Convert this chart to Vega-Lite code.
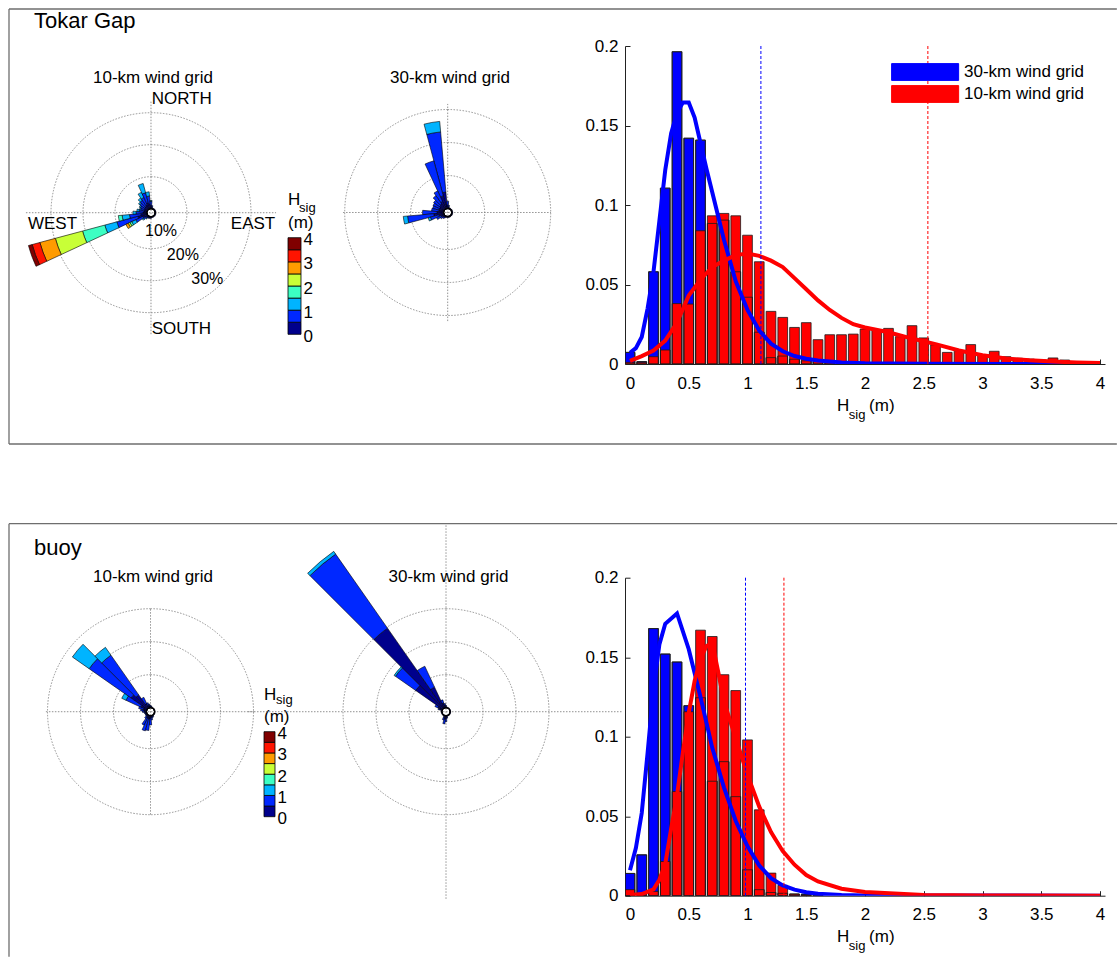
{
"$schema": "https://vega.github.io/schema/vega-lite/v6.json",
"background": "white",
"padding": {"left": 8, "top": 8, "right": 0, "bottom": 0},
"config": {"view": {"stroke": null}, "font": "Liberation Sans", "text": {"font": "Liberation Sans", "color": "#000"}},
"datasets": {
"one": [{}],
"rings": [{"r": 10}, {"r": 20}, {"r": 30}],
"cbar": [{"hs":0,"lo":0,"hi":0.5},{"hs":0.5,"lo":0.5,"hi":1},{"hs":1,"lo":1,"hi":1.5},{"hs":1.5,"lo":1.5,"hi":2},{"hs":2,"lo":2,"hi":2.5},{"hs":2.5,"lo":2.5,"hi":3},{"hs":3,"lo":3,"hi":3.5},{"hs":3.5,"lo":3.5,"hi":4}],
"T10": [
{"dir":250,"hs":0,"f":3},{"dir":250,"hs":0.5,"f":6.8},{"dir":250,"hs":1,"f":3.9},{"dir":250,"hs":1.5,"f":7.2},{"dir":250,"hs":2,"f":8.8},{"dir":250,"hs":2.5,"f":5},{"dir":250,"hs":3,"f":2.5},{"dir":250,"hs":3.5,"f":1.2},
{"dir":260,"hs":0,"f":2},{"dir":260,"hs":0.5,"f":3.5},{"dir":260,"hs":1,"f":2.3},{"dir":260,"hs":1.5,"f":1.2},
{"dir":240,"hs":0,"f":1.5},{"dir":240,"hs":0.5,"f":2.5},{"dir":240,"hs":1,"f":1.4},{"dir":240,"hs":1.5,"f":0.6},{"dir":240,"hs":2,"f":0.6},{"dir":240,"hs":2.5,"f":0.8},
{"dir":230,"hs":0,"f":0.8},{"dir":230,"hs":0.5,"f":0.9},{"dir":230,"hs":1,"f":0.4},
{"dir":220,"hs":0,"f":0.5},{"dir":220,"hs":0.5,"f":0.5},{"dir":220,"hs":1,"f":0.2},
{"dir":210,"hs":0,"f":0.4},{"dir":210,"hs":0.5,"f":0.3},
{"dir":200,"hs":0,"f":0.3},{"dir":200,"hs":0.5,"f":0.3},
{"dir":190,"hs":0,"f":0.3},{"dir":190,"hs":0.5,"f":0.2},
{"dir":180,"hs":0,"f":0.3},{"dir":180,"hs":0.5,"f":0.2},
{"dir":270,"hs":0,"f":1.2},{"dir":270,"hs":0.5,"f":2.2},{"dir":270,"hs":1,"f":1},
{"dir":280,"hs":0,"f":1},{"dir":280,"hs":0.5,"f":1.5},{"dir":280,"hs":1,"f":0.7},
{"dir":290,"hs":0,"f":0.9},{"dir":290,"hs":0.5,"f":1.2},{"dir":290,"hs":1,"f":0.4},
{"dir":300,"hs":0,"f":1},{"dir":300,"hs":0.5,"f":1.4},{"dir":300,"hs":1,"f":0.4},
{"dir":310,"hs":0,"f":1.2},{"dir":310,"hs":0.5,"f":1.8},{"dir":310,"hs":1,"f":0.5},
{"dir":320,"hs":0,"f":1.3},{"dir":320,"hs":0.5,"f":2.2},{"dir":320,"hs":1,"f":0.9},
{"dir":330,"hs":0,"f":1.5},{"dir":330,"hs":0.5,"f":2.5},{"dir":330,"hs":1,"f":1.8},
{"dir":340,"hs":0,"f":2},{"dir":340,"hs":0.5,"f":3.2},{"dir":340,"hs":1,"f":3},
{"dir":350,"hs":0,"f":1.5},{"dir":350,"hs":0.5,"f":2.5},{"dir":350,"hs":1,"f":1.3},
{"dir":0,"hs":0,"f":1},{"dir":0,"hs":0.5,"f":1.3},{"dir":0,"hs":1,"f":0.3},
{"dir":10,"hs":0,"f":0.5},{"dir":10,"hs":0.5,"f":0.5},
{"dir":20,"hs":0,"f":0.3},{"dir":30,"hs":0,"f":0.3},{"dir":40,"hs":0,"f":0.3},{"dir":50,"hs":0,"f":0.3},{"dir":60,"hs":0,"f":0.3},{"dir":70,"hs":0,"f":0.3},{"dir":80,"hs":0,"f":0.3},{"dir":90,"hs":0,"f":0.3},{"dir":100,"hs":0,"f":0.3},{"dir":110,"hs":0,"f":0.3},{"dir":120,"hs":0,"f":0.3},{"dir":130,"hs":0,"f":0.3},{"dir":140,"hs":0,"f":0.3},{"dir":150,"hs":0,"f":0.3},{"dir":160,"hs":0,"f":0.3},{"dir":170,"hs":0,"f":0.3}
],
"T30": [
{"dir":350,"hs":0,"f":5},{"dir":350,"hs":0.5,"f":18.3},{"dir":350,"hs":1,"f":3.2},
{"dir":340,"hs":0,"f":4},{"dir":340,"hs":0.5,"f":11},
{"dir":330,"hs":0,"f":2.5},{"dir":330,"hs":0.5,"f":3.5},
{"dir":320,"hs":0,"f":2},{"dir":320,"hs":0.5,"f":3},
{"dir":310,"hs":0,"f":1.8},{"dir":310,"hs":0.5,"f":2.2},
{"dir":300,"hs":0,"f":1.5},{"dir":300,"hs":0.5,"f":2.2},
{"dir":290,"hs":0,"f":1.5},{"dir":290,"hs":0.5,"f":2},
{"dir":280,"hs":0,"f":1.5},{"dir":280,"hs":0.5,"f":2.2},
{"dir":270,"hs":0,"f":2},{"dir":270,"hs":0.5,"f":4.4},
{"dir":260,"hs":0,"f":3},{"dir":260,"hs":0.5,"f":8},{"dir":260,"hs":1,"f":1.3},
{"dir":250,"hs":0,"f":1.5},{"dir":250,"hs":0.5,"f":2.7},{"dir":250,"hs":1,"f":0.7},
{"dir":240,"hs":0,"f":1},{"dir":240,"hs":0.5,"f":1.5},
{"dir":230,"hs":0,"f":0.7},{"dir":230,"hs":0.5,"f":0.8},
{"dir":220,"hs":0,"f":0.5},{"dir":220,"hs":0.5,"f":0.5},
{"dir":210,"hs":0,"f":0.4},{"dir":210,"hs":0.5,"f":0.3},
{"dir":0,"hs":0,"f":1},{"dir":0,"hs":0.5,"f":1.2},
{"dir":10,"hs":0,"f":0.5},{"dir":10,"hs":0.5,"f":0.5},
{"dir":20,"hs":0,"f":0.3},{"dir":30,"hs":0,"f":0.3},{"dir":40,"hs":0,"f":0.3},{"dir":50,"hs":0,"f":0.3},{"dir":60,"hs":0,"f":0.3},{"dir":70,"hs":0,"f":0.3},{"dir":80,"hs":0,"f":0.3},{"dir":90,"hs":0,"f":0.3},{"dir":100,"hs":0,"f":0.3},{"dir":110,"hs":0,"f":0.3},{"dir":120,"hs":0,"f":0.3},{"dir":130,"hs":0,"f":0.3},{"dir":140,"hs":0,"f":0.3},{"dir":150,"hs":0,"f":0.3},{"dir":160,"hs":0,"f":0.3},{"dir":170,"hs":0,"f":0.3},{"dir":180,"hs":0,"f":0.3},{"dir":190,"hs":0,"f":0.3},{"dir":200,"hs":0,"f":0.3}
],
"B10": [
{"dir":310,"hs":0,"f":6},{"dir":310,"hs":0.5,"f":15.5},{"dir":310,"hs":1,"f":6.2},
{"dir":320,"hs":0,"f":5},{"dir":320,"hs":0.5,"f":14.7},{"dir":320,"hs":1,"f":2.9},
{"dir":300,"hs":0,"f":2},{"dir":300,"hs":0.5,"f":5},{"dir":300,"hs":1,"f":1.4},
{"dir":330,"hs":0,"f":1.5},{"dir":330,"hs":0.5,"f":2.1},
{"dir":290,"hs":0,"f":1},{"dir":290,"hs":0.5,"f":1.5},
{"dir":280,"hs":0,"f":0.8},{"dir":280,"hs":0.5,"f":1},
{"dir":270,"hs":0,"f":0.6},{"dir":270,"hs":0.5,"f":0.6},
{"dir":260,"hs":0,"f":0.4},{"dir":260,"hs":0.5,"f":0.3},
{"dir":250,"hs":0,"f":0.3},{"dir":250,"hs":0.5,"f":0.3},
{"dir":240,"hs":0,"f":0.3},{"dir":240,"hs":0.5,"f":0.2},
{"dir":230,"hs":0,"f":0.3},{"dir":230,"hs":0.5,"f":0.3},
{"dir":220,"hs":0,"f":0.5},{"dir":220,"hs":0.5,"f":0.8},
{"dir":210,"hs":0,"f":0.8},{"dir":210,"hs":0.5,"f":2.5},
{"dir":200,"hs":0,"f":1},{"dir":200,"hs":0.5,"f":3.8},
{"dir":190,"hs":0,"f":1},{"dir":190,"hs":0.5,"f":3.5},
{"dir":180,"hs":0,"f":0.8},{"dir":180,"hs":0.5,"f":2},
{"dir":170,"hs":0,"f":0.5},{"dir":170,"hs":0.5,"f":0.8},
{"dir":160,"hs":0,"f":0.3},{"dir":160,"hs":0.5,"f":0.4},
{"dir":150,"hs":0,"f":0.3},{"dir":150,"hs":0.5,"f":0.2},
{"dir":340,"hs":0,"f":0.8},{"dir":340,"hs":0.5,"f":0.8},
{"dir":350,"hs":0,"f":0.6},{"dir":350,"hs":0.5,"f":0.5},
{"dir":0,"hs":0,"f":0.4},{"dir":0,"hs":0.5,"f":0.3},
{"dir":10,"hs":0,"f":0.3},{"dir":10,"hs":0.5,"f":0.2},
{"dir":20,"hs":0,"f":0.2},{"dir":30,"hs":0,"f":0.2},{"dir":40,"hs":0,"f":0.2},{"dir":50,"hs":0,"f":0.2},{"dir":60,"hs":0,"f":0.2},{"dir":70,"hs":0,"f":0.2},{"dir":80,"hs":0,"f":0.2},{"dir":90,"hs":0,"f":0.2},{"dir":100,"hs":0,"f":0.2},{"dir":110,"hs":0,"f":0.2},{"dir":120,"hs":0,"f":0.2},{"dir":130,"hs":0,"f":0.2},{"dir":140,"hs":0,"f":0.2}
],
"B30": [
{"dir":320,"hs":0,"f":29.7},{"dir":320,"hs":0.5,"f":27.4},{"dir":320,"hs":1,"f":1},
{"dir":310,"hs":0,"f":10},{"dir":310,"hs":0.5,"f":7.5},{"dir":310,"hs":1,"f":0.5},
{"dir":330,"hs":0,"f":7},{"dir":330,"hs":0.5,"f":7},
{"dir":340,"hs":0,"f":1.5},{"dir":340,"hs":0.5,"f":1},
{"dir":300,"hs":0,"f":1.5},{"dir":300,"hs":0.5,"f":1},
{"dir":290,"hs":0,"f":0.8},{"dir":290,"hs":0.5,"f":0.5},
{"dir":350,"hs":0,"f":0.8},{"dir":350,"hs":0.5,"f":0.5},
{"dir":0,"hs":0,"f":0.4},{"dir":0,"hs":0.5,"f":0.3},
{"dir":180,"hs":0,"f":0.8},{"dir":180,"hs":0.5,"f":1},
{"dir":190,"hs":0,"f":1},{"dir":190,"hs":0.5,"f":1.5},
{"dir":200,"hs":0,"f":0.6},{"dir":200,"hs":0.5,"f":0.8},
{"dir":170,"hs":0,"f":0.4},{"dir":170,"hs":0.5,"f":0.4},
{"dir":10,"hs":0,"f":0.2},{"dir":20,"hs":0,"f":0.2},{"dir":30,"hs":0,"f":0.2},{"dir":40,"hs":0,"f":0.2},{"dir":50,"hs":0,"f":0.2},{"dir":60,"hs":0,"f":0.2},{"dir":70,"hs":0,"f":0.2},{"dir":80,"hs":0,"f":0.2},{"dir":90,"hs":0,"f":0.2},{"dir":100,"hs":0,"f":0.2},{"dir":110,"hs":0,"f":0.2},{"dir":120,"hs":0,"f":0.2},{"dir":130,"hs":0,"f":0.2},{"dir":140,"hs":0,"f":0.2},{"dir":150,"hs":0,"f":0.2},{"dir":160,"hs":0,"f":0.2},
{"dir":210,"hs":0,"f":0.2},{"dir":220,"hs":0,"f":0.2},{"dir":230,"hs":0,"f":0.2},{"dir":240,"hs":0,"f":0.2},{"dir":250,"hs":0,"f":0.2},{"dir":260,"hs":0,"f":0.2},{"dir":270,"hs":0,"f":0.2},{"dir":280,"hs":0,"f":0.2}
],
"Thist": [
{"grid":"30-km wind grid","h":0,"p":0.0073},{"grid":"30-km wind grid","h":0.1,"p":0.0015},{"grid":"30-km wind grid","h":0.2,"p":0.058},{"grid":"30-km wind grid","h":0.3,"p":0.1106},{"grid":"30-km wind grid","h":0.4,"p":0.1964},{"grid":"30-km wind grid","h":0.5,"p":0.142},{"grid":"30-km wind grid","h":0.6,"p":0.1408},{"grid":"30-km wind grid","h":0.7,"p":0.0884},{"grid":"30-km wind grid","h":0.8,"p":0.0905},{"grid":"30-km wind grid","h":0.9,"p":0.058},{"grid":"30-km wind grid","h":1.0,"p":0.042},{"grid":"30-km wind grid","h":1.1,"p":0.02},{"grid":"30-km wind grid","h":1.2,"p":0.004},{"grid":"30-km wind grid","h":1.3,"p":0.005},{"grid":"30-km wind grid","h":1.4,"p":0.003},{"grid":"30-km wind grid","h":1.5,"p":0.002},{"grid":"30-km wind grid","h":1.6,"p":0.0015},{"grid":"30-km wind grid","h":1.7,"p":0.001},{"grid":"30-km wind grid","h":1.8,"p":0.001},{"grid":"30-km wind grid","h":1.9,"p":0.0008},{"grid":"30-km wind grid","h":2.0,"p":0.0005},{"grid":"30-km wind grid","h":2.1,"p":0.0004},{"grid":"30-km wind grid","h":2.2,"p":0.0003},{"grid":"30-km wind grid","h":2.3,"p":0.0003},{"grid":"30-km wind grid","h":2.4,"p":0.0002},{"grid":"30-km wind grid","h":2.5,"p":0.0002},
{"grid":"10-km wind grid","h":0,"p":0.001},{"grid":"10-km wind grid","h":0.1,"p":0.001},{"grid":"10-km wind grid","h":0.2,"p":0.0046},{"grid":"10-km wind grid","h":0.3,"p":0.0088},{"grid":"10-km wind grid","h":0.4,"p":0.038},{"grid":"10-km wind grid","h":0.5,"p":0.0377},{"grid":"10-km wind grid","h":0.6,"p":0.0838},{"grid":"10-km wind grid","h":0.7,"p":0.0932},{"grid":"10-km wind grid","h":0.8,"p":0.0947},{"grid":"10-km wind grid","h":0.9,"p":0.0932},{"grid":"10-km wind grid","h":1.0,"p":0.081},{"grid":"10-km wind grid","h":1.1,"p":0.0643},{"grid":"10-km wind grid","h":1.2,"p":0.0331},{"grid":"10-km wind grid","h":1.3,"p":0.0293},{"grid":"10-km wind grid","h":1.4,"p":0.023},{"grid":"10-km wind grid","h":1.5,"p":0.026},{"grid":"10-km wind grid","h":1.6,"p":0.0153},{"grid":"10-km wind grid","h":1.7,"p":0.0184},{"grid":"10-km wind grid","h":1.8,"p":0.0184},{"grid":"10-km wind grid","h":1.9,"p":0.0188},{"grid":"10-km wind grid","h":2.0,"p":0.022},{"grid":"10-km wind grid","h":2.1,"p":0.0214},{"grid":"10-km wind grid","h":2.2,"p":0.0224},{"grid":"10-km wind grid","h":2.3,"p":0.0172},{"grid":"10-km wind grid","h":2.4,"p":0.0241},{"grid":"10-km wind grid","h":2.5,"p":0.0164},{"grid":"10-km wind grid","h":2.6,"p":0.012},{"grid":"10-km wind grid","h":2.7,"p":0.0073},{"grid":"10-km wind grid","h":2.8,"p":0.008},{"grid":"10-km wind grid","h":2.9,"p":0.0122},{"grid":"10-km wind grid","h":3.0,"p":0.0059},{"grid":"10-km wind grid","h":3.1,"p":0.008},{"grid":"10-km wind grid","h":3.2,"p":0.0046},{"grid":"10-km wind grid","h":3.3,"p":0.0036},{"grid":"10-km wind grid","h":3.4,"p":0.0031},{"grid":"10-km wind grid","h":3.5,"p":0.0025},{"grid":"10-km wind grid","h":3.6,"p":0.0038},{"grid":"10-km wind grid","h":3.7,"p":0.0025},{"grid":"10-km wind grid","h":3.8,"p":0.001},{"grid":"10-km wind grid","h":3.9,"p":0.0005}
],
"Tcurve": [
{"grid":"30-km wind grid","h":0,"p":0.007},{"grid":"30-km wind grid","h":0.05,"p":0.01},{"grid":"30-km wind grid","h":0.1,"p":0.017},{"grid":"30-km wind grid","h":0.15,"p":0.035},{"grid":"30-km wind grid","h":0.2,"p":0.058},{"grid":"30-km wind grid","h":0.25,"p":0.09},{"grid":"30-km wind grid","h":0.3,"p":0.122},{"grid":"30-km wind grid","h":0.35,"p":0.145},{"grid":"30-km wind grid","h":0.4,"p":0.158},{"grid":"30-km wind grid","h":0.45,"p":0.1644},{"grid":"30-km wind grid","h":0.5,"p":0.1644},{"grid":"30-km wind grid","h":0.55,"p":0.155},{"grid":"30-km wind grid","h":0.6,"p":0.139},{"grid":"30-km wind grid","h":0.65,"p":0.123},{"grid":"30-km wind grid","h":0.7,"p":0.108},{"grid":"30-km wind grid","h":0.8,"p":0.078},{"grid":"30-km wind grid","h":0.9,"p":0.052},{"grid":"30-km wind grid","h":1.0,"p":0.034},{"grid":"30-km wind grid","h":1.1,"p":0.021},{"grid":"30-km wind grid","h":1.2,"p":0.0128},{"grid":"30-km wind grid","h":1.3,"p":0.008},{"grid":"30-km wind grid","h":1.4,"p":0.005},{"grid":"30-km wind grid","h":1.5,"p":0.0033},{"grid":"30-km wind grid","h":1.6,"p":0.0022},{"grid":"30-km wind grid","h":1.8,"p":0.001},{"grid":"30-km wind grid","h":2.0,"p":0.0005},{"grid":"30-km wind grid","h":2.5,"p":0.0001},{"grid":"30-km wind grid","h":4.0,"p":0},
{"grid":"10-km wind grid","h":0,"p":0.002},{"grid":"10-km wind grid","h":0.1,"p":0.005},{"grid":"10-km wind grid","h":0.2,"p":0.0085},{"grid":"10-km wind grid","h":0.3,"p":0.0147},{"grid":"10-km wind grid","h":0.4,"p":0.026},{"grid":"10-km wind grid","h":0.5,"p":0.043},{"grid":"10-km wind grid","h":0.6,"p":0.053},{"grid":"10-km wind grid","h":0.7,"p":0.061},{"grid":"10-km wind grid","h":0.8,"p":0.065},{"grid":"10-km wind grid","h":0.9,"p":0.0685},{"grid":"10-km wind grid","h":1.0,"p":0.0695},{"grid":"10-km wind grid","h":1.1,"p":0.068},{"grid":"10-km wind grid","h":1.2,"p":0.065},{"grid":"10-km wind grid","h":1.3,"p":0.061},{"grid":"10-km wind grid","h":1.4,"p":0.054},{"grid":"10-km wind grid","h":1.5,"p":0.047},{"grid":"10-km wind grid","h":1.6,"p":0.04},{"grid":"10-km wind grid","h":1.7,"p":0.034},{"grid":"10-km wind grid","h":1.8,"p":0.029},{"grid":"10-km wind grid","h":1.9,"p":0.025},{"grid":"10-km wind grid","h":2.0,"p":0.023},{"grid":"10-km wind grid","h":2.2,"p":0.02},{"grid":"10-km wind grid","h":2.4,"p":0.016},{"grid":"10-km wind grid","h":2.6,"p":0.0125},{"grid":"10-km wind grid","h":2.8,"p":0.0085},{"grid":"10-km wind grid","h":3.0,"p":0.0055},{"grid":"10-km wind grid","h":3.2,"p":0.0035},{"grid":"10-km wind grid","h":3.4,"p":0.0023},{"grid":"10-km wind grid","h":3.6,"p":0.0015},{"grid":"10-km wind grid","h":3.8,"p":0.001},{"grid":"10-km wind grid","h":4.0,"p":0.0006}
],
"Tmean": [{"grid":"30-km wind grid","h":1.114},{"grid":"10-km wind grid","h":2.535}],
"Bhist": [
{"grid":"30-km wind grid","h":0,"p":0.014},{"grid":"30-km wind grid","h":0.1,"p":0.0257},{"grid":"30-km wind grid","h":0.2,"p":0.168},{"grid":"30-km wind grid","h":0.3,"p":0.152},{"grid":"30-km wind grid","h":0.4,"p":0.147},{"grid":"30-km wind grid","h":0.5,"p":0.1195},{"grid":"30-km wind grid","h":0.6,"p":0.1245},{"grid":"30-km wind grid","h":0.7,"p":0.072},{"grid":"30-km wind grid","h":0.8,"p":0.0843},{"grid":"30-km wind grid","h":0.9,"p":0.0623},{"grid":"30-km wind grid","h":1.0,"p":0.0163},{"grid":"30-km wind grid","h":1.1,"p":0.0038},{"grid":"30-km wind grid","h":1.2,"p":0.002},{"grid":"30-km wind grid","h":1.3,"p":0.0015},{"grid":"30-km wind grid","h":1.4,"p":0.001},{"grid":"30-km wind grid","h":1.5,"p":0.001},{"grid":"30-km wind grid","h":1.6,"p":0.0008},
{"grid":"10-km wind grid","h":0,"p":0.0038},{"grid":"10-km wind grid","h":0.1,"p":0.0005},{"grid":"10-km wind grid","h":0.2,"p":0.0027},{"grid":"10-km wind grid","h":0.3,"p":0.0215},{"grid":"10-km wind grid","h":0.4,"p":0.0655},{"grid":"10-km wind grid","h":0.5,"p":0.1157},{"grid":"10-km wind grid","h":0.6,"p":0.167},{"grid":"10-km wind grid","h":0.7,"p":0.163},{"grid":"10-km wind grid","h":0.8,"p":0.139},{"grid":"10-km wind grid","h":0.9,"p":0.129},{"grid":"10-km wind grid","h":1.0,"p":0.098},{"grid":"10-km wind grid","h":1.1,"p":0.054},{"grid":"10-km wind grid","h":1.2,"p":0.0142},{"grid":"10-km wind grid","h":1.3,"p":0.0065},{"grid":"10-km wind grid","h":1.4,"p":0.001},{"grid":"10-km wind grid","h":1.5,"p":0.0005}
],
"Bcurve": [
{"grid":"30-km wind grid","h":0,"p":0.016},{"grid":"30-km wind grid","h":0.05,"p":0.03},{"grid":"30-km wind grid","h":0.1,"p":0.052},{"grid":"30-km wind grid","h":0.15,"p":0.09},{"grid":"30-km wind grid","h":0.2,"p":0.13},{"grid":"30-km wind grid","h":0.25,"p":0.158},{"grid":"30-km wind grid","h":0.3,"p":0.171},{"grid":"30-km wind grid","h":0.4,"p":0.1775},{"grid":"30-km wind grid","h":0.5,"p":0.155},{"grid":"30-km wind grid","h":0.6,"p":0.125},{"grid":"30-km wind grid","h":0.7,"p":0.093},{"grid":"30-km wind grid","h":0.8,"p":0.068},{"grid":"30-km wind grid","h":0.9,"p":0.047},{"grid":"30-km wind grid","h":1.0,"p":0.031},{"grid":"30-km wind grid","h":1.1,"p":0.019},{"grid":"30-km wind grid","h":1.2,"p":0.011},{"grid":"30-km wind grid","h":1.3,"p":0.0065},{"grid":"30-km wind grid","h":1.4,"p":0.0038},{"grid":"30-km wind grid","h":1.5,"p":0.0022},{"grid":"30-km wind grid","h":1.6,"p":0.0013},{"grid":"30-km wind grid","h":1.8,"p":0.0005},{"grid":"30-km wind grid","h":2.0,"p":0.0002},{"grid":"30-km wind grid","h":4.0,"p":0},
{"grid":"10-km wind grid","h":0,"p":0.0005},{"grid":"10-km wind grid","h":0.1,"p":0.001},{"grid":"10-km wind grid","h":0.2,"p":0.004},{"grid":"10-km wind grid","h":0.25,"p":0.01},{"grid":"10-km wind grid","h":0.3,"p":0.02},{"grid":"10-km wind grid","h":0.35,"p":0.042},{"grid":"10-km wind grid","h":0.4,"p":0.063},{"grid":"10-km wind grid","h":0.45,"p":0.09},{"grid":"10-km wind grid","h":0.5,"p":0.115},{"grid":"10-km wind grid","h":0.55,"p":0.135},{"grid":"10-km wind grid","h":0.6,"p":0.149},{"grid":"10-km wind grid","h":0.65,"p":0.157},{"grid":"10-km wind grid","h":0.7,"p":0.159},{"grid":"10-km wind grid","h":0.75,"p":0.141},{"grid":"10-km wind grid","h":0.8,"p":0.122},{"grid":"10-km wind grid","h":0.9,"p":0.099},{"grid":"10-km wind grid","h":1.0,"p":0.076},{"grid":"10-km wind grid","h":1.1,"p":0.056},{"grid":"10-km wind grid","h":1.2,"p":0.04},{"grid":"10-km wind grid","h":1.3,"p":0.028},{"grid":"10-km wind grid","h":1.4,"p":0.0195},{"grid":"10-km wind grid","h":1.5,"p":0.013},{"grid":"10-km wind grid","h":1.6,"p":0.009},{"grid":"10-km wind grid","h":1.8,"p":0.0044},{"grid":"10-km wind grid","h":2.0,"p":0.0023},{"grid":"10-km wind grid","h":2.5,"p":0.0005},{"grid":"10-km wind grid","h":3.0,"p":0.0001},{"grid":"10-km wind grid","h":4.0,"p":0}
],
"Bmean": [{"grid":"30-km wind grid","h":0.983},{"grid":"10-km wind grid","h":1.31}]
},
"vconcat": [
{
"hconcat": [
{
"width": 279, "height": 435,
"encoding": {
 "x": {"datum": 0, "type": "quantitative", "scale": {"domain": [-43.03, 41.52], "nice": false, "zero": false}, "axis": null},
 "y": {"datum": 0, "type": "quantitative", "scale": {"domain": [-70.09, 61.73], "nice": false, "zero": false}, "axis": null}
},
"layer": [
 {"data": {"name": "one"}, "mark": {"type": "rule", "stroke": "#6e6e6e", "strokeWidth": 1.3}, "encoding": {"x": {"datum": -43.03, "type": "quantitative"}, "x2": {"datum": 292.7}, "y": {"datum": 61.73, "type": "quantitative"}}},
 {"data": {"name": "one"}, "mark": {"type": "rule", "stroke": "#6e6e6e", "strokeWidth": 1.3}, "encoding": {"x": {"datum": -43.03, "type": "quantitative"}, "x2": {"datum": 292.7}, "y": {"datum": -70.09, "type": "quantitative"}}},
 {"data": {"name": "one"}, "mark": {"type": "rule", "stroke": "#6e6e6e", "strokeWidth": 1.3}, "encoding": {"x": {"datum": -43.03, "type": "quantitative"}, "y": {"datum": -70.09, "type": "quantitative"}, "y2": {"datum": 61.73}}},
 {"data": {"name": "one"}, "mark": {"type": "text", "text": "Tokar Gap", "align": "left", "baseline": "alphabetic", "fontSize": 22}, "encoding": {"x": {"datum": -35.45, "type": "quantitative"}, "y": {"datum": 55.97, "type": "quantitative"}}},
 {"data": {"name": "one"}, "mark": {"type": "rule", "stroke": "#777", "strokeWidth": 0.8, "strokeDash": [1.5, 1.5]}, "encoding": {"x": {"datum": -37.9, "type": "quantitative"}, "x2": {"datum": 37.9}}},
 {"data": {"name": "one"}, "mark": {"type": "rule", "stroke": "#777", "strokeWidth": 0.8, "strokeDash": [1.5, 1.5]}, "encoding": {"y": {"datum": -36.8, "type": "quantitative"}, "y2": {"datum": 33.8}}},
 {"data": {"name": "rings"}, "mark": {"type": "arc", "fillOpacity": 0, "stroke": "#777", "strokeWidth": 0.8, "strokeDash": [1.5, 1.5]},
  "encoding": {"theta": {"datum": 0, "type": "quantitative", "scale": {"domain": [0, 360], "range": [0, 6.283185307179586]}}, "theta2": {"datum": 360}, "radius": {"field": "r", "type": "quantitative", "stack": null, "scale": {"type": "linear", "domain": [0, 30], "range": [4, 100], "zero": false}}}},
 {"data": {"name": "T10"}, "transform": [{"bin": {"step": 10, "anchor": 5, "extent": [-5, 355], "nice": false}, "field": "dir", "as": ["d0", "d1"]}, {"stack": "f", "groupby": ["dir"], "sort": [{"field": "hs", "order": "ascending"}], "as": ["r0", "r1"]}],
  "mark": {"type": "arc", "stroke": "#000", "strokeWidth": 0.6},
  "encoding": {"theta": {"field": "d0", "type": "quantitative", "stack": null}, "theta2": {"field": "d1"}, "radius": {"field": "r1", "type": "quantitative", "stack": null}, "radius2": {"field": "r0"},
   "fill": {"field": "hs", "type": "ordinal", "scale": {"domain": [0, 0.5, 1, 1.5, 2, 2.5, 3, 3.5], "range": ["#00008c", "#0028ff", "#00b4ff", "#3cffc3", "#c8ff37", "#ff9b00", "#ff1400", "#800000"]}, "legend": null}}},
 {"data": {"name": "one"}, "mark": {"type": "arc", "fill": "#fff", "stroke": "#000", "strokeWidth": 1}, "encoding": {"theta": {"datum": 0, "type": "quantitative"}, "theta2": {"datum": 360}, "radius": {"datum": 0, "type": "quantitative"}}},
 {"data": {"name": "one"}, "mark": {"type": "text", "text": "10-km wind grid", "align": "center", "baseline": "alphabetic", "fontSize": 17}, "encoding": {"x": {"datum": 0.6, "type": "quantitative"}, "y": {"datum": 39.3, "type": "quantitative"}}},
 {"data": {"name": "one"}, "mark": {"type": "text", "text": "NORTH", "align": "left", "baseline": "alphabetic", "fontSize": 17}, "encoding": {"x": {"datum": 0.2, "type": "quantitative"}, "y": {"datum": 32.8, "type": "quantitative"}}},
 {"data": {"name": "one"}, "mark": {"type": "text", "text": "SOUTH", "align": "left", "baseline": "alphabetic", "fontSize": 17}, "encoding": {"x": {"datum": 0.2, "type": "quantitative"}, "y": {"datum": -36.8, "type": "quantitative"}}},
 {"data": {"name": "one"}, "mark": {"type": "text", "text": "WEST", "align": "left", "baseline": "alphabetic", "fontSize": 17}, "encoding": {"x": {"datum": -37.3, "type": "quantitative"}, "y": {"datum": -4.9, "type": "quantitative"}}},
 {"data": {"name": "one"}, "mark": {"type": "text", "text": "EAST", "align": "left", "baseline": "alphabetic", "fontSize": 17}, "encoding": {"x": {"datum": 24.2, "type": "quantitative"}, "y": {"datum": -4.9, "type": "quantitative"}}},
 {"data": {"name": "one"}, "mark": {"type": "text", "text": "10%", "align": "left", "baseline": "alphabetic", "fontSize": 16}, "encoding": {"x": {"datum": -1.8, "type": "quantitative"}, "y": {"datum": -7.0, "type": "quantitative"}}},
 {"data": {"name": "one"}, "mark": {"type": "text", "text": "20%", "align": "left", "baseline": "alphabetic", "fontSize": 16}, "encoding": {"x": {"datum": 4.8, "type": "quantitative"}, "y": {"datum": -14.3, "type": "quantitative"}}},
 {"data": {"name": "one"}, "mark": {"type": "text", "text": "30%", "align": "left", "baseline": "alphabetic", "fontSize": 16}, "encoding": {"x": {"datum": 12.2, "type": "quantitative"}, "y": {"datum": -21.5, "type": "quantitative"}}}
]
},
{
"width": 13, "height": 435,
"layer": [
 {"data": {"name": "cbar"}, "mark": {"type": "rect", "stroke": "#000", "strokeWidth": 0.8},
  "encoding": {
   "x": {"datum": 0, "type": "quantitative", "scale": {"domain": [0, 1], "nice": false, "zero": false}, "axis": null},
   "x2": {"datum": 1},
   "y": {"field": "lo", "type": "quantitative", "scale": {"domain": [-4.542, 13.47], "nice": false, "zero": false}, "axis": {"orient": "right", "values": [0, 1, 2, 3, 4], "ticks": false, "domain": false, "grid": false, "labelPadding": 2, "labelOffset": 2, "labelFontSize": 17, "labelColor": "#000", "title": null}},
   "y2": {"field": "hi"},
   "fill": {"field": "hs", "type": "ordinal", "scale": {"domain": [0, 0.5, 1, 1.5, 2, 2.5, 3, 3.5], "range": ["#00008c", "#0028ff", "#00b4ff", "#3cffc3", "#c8ff37", "#ff9b00", "#ff1400", "#800000"]}, "legend": null}}},
 {"data": {"name": "one"}, "mark": {"type": "text", "text": "H", "align": "left", "baseline": "alphabetic", "fontSize": 17}, "encoding": {"x": {"datum": 0, "type": "quantitative"}, "y": {"datum": 5.36, "type": "quantitative"}}},
 {"data": {"name": "one"}, "mark": {"type": "text", "text": "sig", "align": "left", "baseline": "alphabetic", "fontSize": 13}, "encoding": {"x": {"datum": 0.85, "type": "quantitative"}, "y": {"datum": 5.07, "type": "quantitative"}}},
 {"data": {"name": "one"}, "mark": {"type": "text", "text": "(m)", "align": "left", "baseline": "alphabetic", "fontSize": 17}, "encoding": {"x": {"datum": 0, "type": "quantitative"}, "y": {"datum": 4.41, "type": "quantitative"}}}
]
},
{
"width": 324, "height": 435,
"encoding": {
 "x": {"datum": 0, "type": "quantitative", "scale": {"domain": [-44.45, 53.73], "nice": false, "zero": false}, "axis": null},
 "y": {"datum": 0, "type": "quantitative", "scale": {"domain": [-70.15, 61.67], "nice": false, "zero": false}, "axis": null}
},
"layer": [
 {"data": {"name": "one"}, "mark": {"type": "rule", "stroke": "#777", "strokeWidth": 0.8, "strokeDash": [1.5, 1.5]}, "encoding": {"x": {"datum": -31.7, "type": "quantitative"}, "x2": {"datum": 31.3}}},
 {"data": {"name": "one"}, "mark": {"type": "rule", "stroke": "#777", "strokeWidth": 0.8, "strokeDash": [1.5, 1.5]}, "encoding": {"y": {"datum": -32.9, "type": "quantitative"}, "y2": {"datum": 32.9}}},
 {"data": {"name": "rings"}, "mark": {"type": "arc", "fillOpacity": 0, "stroke": "#777", "strokeWidth": 0.8, "strokeDash": [1.5, 1.5]},
  "encoding": {"theta": {"datum": 0, "type": "quantitative", "scale": {"domain": [0, 360], "range": [0, 6.283185307179586]}}, "theta2": {"datum": 360}, "radius": {"field": "r", "type": "quantitative", "stack": null, "scale": {"type": "linear", "domain": [0, 30], "range": [4, 103], "zero": false}}}},
 {"data": {"name": "T30"}, "transform": [{"bin": {"step": 10, "anchor": 5, "extent": [-5, 355], "nice": false}, "field": "dir", "as": ["d0", "d1"]}, {"stack": "f", "groupby": ["dir"], "sort": [{"field": "hs", "order": "ascending"}], "as": ["r0", "r1"]}],
  "mark": {"type": "arc", "stroke": "#000", "strokeWidth": 0.6},
  "encoding": {"theta": {"field": "d0", "type": "quantitative", "stack": null}, "theta2": {"field": "d1"}, "radius": {"field": "r1", "type": "quantitative", "stack": null}, "radius2": {"field": "r0"},
   "fill": {"field": "hs", "type": "ordinal", "scale": {"domain": [0, 0.5, 1, 1.5, 2, 2.5, 3, 3.5], "range": ["#00008c", "#0028ff", "#00b4ff", "#3cffc3", "#c8ff37", "#ff9b00", "#ff1400", "#800000"]}, "legend": null}}},
 {"data": {"name": "one"}, "mark": {"type": "arc", "fill": "#fff", "stroke": "#000", "strokeWidth": 1}, "encoding": {"theta": {"datum": 0, "type": "quantitative"}, "theta2": {"datum": 360}, "radius": {"datum": 0, "type": "quantitative"}}},
 {"data": {"name": "one"}, "mark": {"type": "text", "text": "30-km wind grid", "align": "center", "baseline": "alphabetic", "fontSize": 17}, "encoding": {"x": {"datum": 0.7, "type": "quantitative"}, "y": {"datum": 39.2, "type": "quantitative"}}}
]
},
{
"vconcat": [
 {"width": 480, "height": 37, "data": {"name": "one"}, "mark": {"type": "text", "text": ""}, "encoding": {}},
 {
 "width": 480, "height": 318,
 "layer": [
  {"data": {"name": "Thist"}, "mark": {"type": "bar", "width": 9.7, "stroke": "#1a1a1a", "strokeWidth": 0.8, "clip": true},
   "encoding": {
    "x": {"field": "h", "type": "quantitative", "scale": {"domain": [0, 4], "nice": false, "zero": false}, "axis": {"values": [0, 0.5, 1, 1.5, 2, 2.5, 3, 3.5, 4], "format": "~g", "title": null, "grid": false, "tickSize": -5, "labelPadding": 16, "labelFontSize": 17, "labelColor": "#000", "domainColor": "#222", "tickColor": "#222", "labelFlush": false, "labelOverlap": false}},
    "y": {"field": "p", "type": "quantitative", "stack": null, "scale": {"domain": [0, 0.2], "nice": false}, "axis": {"values": [0, 0.05, 0.1, 0.15, 0.2], "format": "~g", "title": null, "grid": false, "tickSize": -5, "labelPadding": 12, "labelFontSize": 17, "labelColor": "#000", "domainColor": "#222", "tickColor": "#222"}},
    "color": {"field": "grid", "type": "nominal", "scale": {"domain": ["30-km wind grid", "10-km wind grid"], "range": ["#0000ff", "#ff0000"]},
     "legend": {"orient": "none", "legendX": 266, "legendY": 17, "title": null, "padding": 0, "symbolType": "M-1,-1H7V1H-1Z", "symbolSize": 280.6, "symbolStrokeColor": "#1a1a1a", "symbolStrokeWidth": 1, "symbolOpacity": 1, "labelFontSize": 17, "labelOffset": 55, "rowPadding": 0, "labelColor": "#000", "labelLimit": 300}}
   }},
  {"data": {"name": "Thist"}, "transform": [{"filter": "datum.grid == '30-km wind grid'"}], "mark": {"type": "bar", "width": 9.7, "fillOpacity": 0, "stroke": "#1a1a1a", "strokeWidth": 0.8, "clip": true},
   "encoding": {"x": {"field": "h", "type": "quantitative"}, "y": {"field": "p", "type": "quantitative", "stack": null}}},
  {"data": {"name": "Tcurve"}, "mark": {"type": "line", "strokeWidth": 4, "clip": true},
   "encoding": {"x": {"field": "h", "type": "quantitative"}, "y": {"field": "p", "type": "quantitative"}, "stroke": {"field": "grid", "type": "nominal", "scale": {"domain": ["30-km wind grid", "10-km wind grid"], "range": ["#0000ff", "#ff0000"]}, "legend": null}}},
  {"data": {"name": "Tmean"}, "mark": {"type": "rule", "strokeWidth": 1, "strokeDash": [3, 2]},
   "encoding": {"x": {"field": "h", "type": "quantitative"}, "stroke": {"field": "grid", "type": "nominal", "scale": {"domain": ["30-km wind grid", "10-km wind grid"], "range": ["#0000ff", "#ff0000"]}, "legend": null}}},
  {"data": {"name": "one"}, "mark": {"type": "text", "text": "H", "align": "left", "baseline": "alphabetic", "fontSize": 17}, "encoding": {"x": {"datum": 1.762, "type": "quantitative"}, "y": {"datum": -0.0293, "type": "quantitative"}}},
  {"data": {"name": "one"}, "mark": {"type": "text", "text": "sig", "align": "left", "baseline": "alphabetic", "fontSize": 13}, "encoding": {"x": {"datum": 1.862, "type": "quantitative"}, "y": {"datum": -0.0344, "type": "quantitative"}}},
  {"data": {"name": "one"}, "mark": {"type": "text", "text": "(m)", "align": "left", "baseline": "alphabetic", "fontSize": 17}, "encoding": {"x": {"datum": 2.035, "type": "quantitative"}, "y": {"datum": -0.0293, "type": "quantitative"}}}
 ]
 }
],
"spacing": 0, "bounds": "flush",
"resolve": {"scale": {"color": "independent", "fill": "independent", "stroke": "independent"}, "legend": {"color": "independent"}}
}
],
"spacing": 0, "bounds": "flush",
"resolve": {"scale": {"color": "independent", "fill": "independent", "stroke": "independent"}, "legend": {"color": "independent"}}
},
{
"hconcat": [
{
"width": 255, "height": 433,
"encoding": {
 "x": {"datum": 0, "type": "quantitative", "scale": {"domain": [-42.88, 34.39], "nice": false, "zero": false}, "axis": null},
 "y": {"datum": 0, "type": "quantitative", "scale": {"domain": [-74.24, 56.97], "nice": false, "zero": false}, "axis": null}
},
"layer": [
 {"data": {"name": "one"}, "mark": {"type": "rule", "stroke": "#6e6e6e", "strokeWidth": 1.3}, "encoding": {"x": {"datum": -42.88, "type": "quantitative"}, "x2": {"datum": 292.9}, "y": {"datum": 56.97, "type": "quantitative"}}},
 {"data": {"name": "one"}, "mark": {"type": "rule", "stroke": "#6e6e6e", "strokeWidth": 1.3}, "encoding": {"x": {"datum": -42.88, "type": "quantitative"}, "y": {"datum": -74.24, "type": "quantitative"}, "y2": {"datum": 56.97}}},
 {"data": {"name": "one"}, "mark": {"type": "text", "text": "buoy", "align": "left", "baseline": "alphabetic", "fontSize": 22}, "encoding": {"x": {"datum": -35.3, "type": "quantitative"}, "y": {"datum": 47.6, "type": "quantitative"}}},
 {"data": {"name": "one"}, "mark": {"type": "rule", "stroke": "#777", "strokeWidth": 0.8, "strokeDash": [1.5, 1.5]}, "encoding": {"x": {"datum": -31.7, "type": "quantitative"}, "x2": {"datum": 31.4}}},
 {"data": {"name": "one"}, "mark": {"type": "rule", "stroke": "#777", "strokeWidth": 0.8, "strokeDash": [1.5, 1.5]}, "encoding": {"y": {"datum": -31.2, "type": "quantitative"}, "y2": {"datum": 31.2}}},
 {"data": {"name": "rings"}, "mark": {"type": "arc", "fillOpacity": 0, "stroke": "#777", "strokeWidth": 0.8, "strokeDash": [1.5, 1.5]},
  "encoding": {"theta": {"datum": 0, "type": "quantitative", "scale": {"domain": [0, 360], "range": [0, 6.283185307179586]}}, "theta2": {"datum": 360}, "radius": {"field": "r", "type": "quantitative", "stack": null, "scale": {"type": "linear", "domain": [0, 30], "range": [4, 103], "zero": false}}}},
 {"data": {"name": "B10"}, "transform": [{"bin": {"step": 10, "anchor": 5, "extent": [-5, 355], "nice": false}, "field": "dir", "as": ["d0", "d1"]}, {"stack": "f", "groupby": ["dir"], "sort": [{"field": "hs", "order": "ascending"}], "as": ["r0", "r1"]}],
  "mark": {"type": "arc", "stroke": "#000", "strokeWidth": 0.6},
  "encoding": {"theta": {"field": "d0", "type": "quantitative", "stack": null}, "theta2": {"field": "d1"}, "radius": {"field": "r1", "type": "quantitative", "stack": null}, "radius2": {"field": "r0"},
   "fill": {"field": "hs", "type": "ordinal", "scale": {"domain": [0, 0.5, 1, 1.5, 2, 2.5, 3, 3.5], "range": ["#00008c", "#0028ff", "#00b4ff", "#3cffc3", "#c8ff37", "#ff9b00", "#ff1400", "#800000"]}, "legend": null}}},
 {"data": {"name": "one"}, "mark": {"type": "arc", "fill": "#fff", "stroke": "#000", "strokeWidth": 1}, "encoding": {"theta": {"datum": 0, "type": "quantitative"}, "theta2": {"datum": 360}, "radius": {"datum": 0, "type": "quantitative"}}},
 {"data": {"name": "one"}, "mark": {"type": "text", "text": "10-km wind grid", "align": "center", "baseline": "alphabetic", "fontSize": 17}, "encoding": {"x": {"datum": 0.76, "type": "quantitative"}, "y": {"datum": 39.4, "type": "quantitative"}}}
]
},
{
"width": 11, "height": 433,
"layer": [
 {"data": {"name": "cbar"}, "mark": {"type": "rect", "stroke": "#000", "strokeWidth": 0.8},
  "encoding": {
   "x": {"datum": 0, "type": "quantitative", "scale": {"domain": [0, 1], "nice": false, "zero": false}, "axis": null},
   "x2": {"datum": 1},
   "y": {"field": "lo", "type": "quantitative", "scale": {"domain": [-6.588, 13.788], "nice": false, "zero": false}, "axis": {"orient": "right", "values": [0, 1, 2, 3, 4], "ticks": false, "domain": false, "grid": false, "labelPadding": 2, "labelOffset": 2, "labelFontSize": 17, "labelColor": "#000", "title": null}},
   "y2": {"field": "hi"},
   "fill": {"field": "hs", "type": "ordinal", "scale": {"domain": [0, 0.5, 1, 1.5, 2, 2.5, 3, 3.5], "range": ["#00008c", "#0028ff", "#00b4ff", "#3cffc3", "#c8ff37", "#ff9b00", "#ff1400", "#800000"]}, "legend": null}}},
 {"data": {"name": "one"}, "mark": {"type": "text", "text": "H", "align": "left", "baseline": "alphabetic", "fontSize": 17}, "encoding": {"x": {"datum": 0, "type": "quantitative"}, "y": {"datum": 5.47, "type": "quantitative"}}},
 {"data": {"name": "one"}, "mark": {"type": "text", "text": "sig", "align": "left", "baseline": "alphabetic", "fontSize": 13}, "encoding": {"x": {"datum": 1.09, "type": "quantitative"}, "y": {"datum": 5.28, "type": "quantitative"}}},
 {"data": {"name": "one"}, "mark": {"type": "text", "text": "(m)", "align": "left", "baseline": "alphabetic", "fontSize": 17}, "encoding": {"x": {"datum": 0, "type": "quantitative"}, "y": {"datum": 4.45, "type": "quantitative"}}}
]
},
{
"width": 350, "height": 433,
"encoding": {
 "x": {"datum": 0, "type": "quantitative", "scale": {"domain": [-51.82, 54.24], "nice": false, "zero": false}, "axis": null},
 "y": {"datum": 0, "type": "quantitative", "scale": {"domain": [-74.24, 56.97], "nice": false, "zero": false}, "axis": null}
},
"layer": [
 {"data": {"name": "one"}, "mark": {"type": "rule", "stroke": "#777", "strokeWidth": 0.8, "strokeDash": [1.5, 1.5]}, "encoding": {"x": {"datum": -60, "type": "quantitative"}, "x2": {"datum": 53.6}}},
 {"data": {"name": "one"}, "mark": {"type": "rule", "stroke": "#777", "strokeWidth": 0.8, "strokeDash": [1.5, 1.5]}, "encoding": {"y": {"datum": -56.7, "type": "quantitative"}, "y2": {"datum": 56.8}}},
 {"data": {"name": "rings"}, "mark": {"type": "arc", "fillOpacity": 0, "stroke": "#777", "strokeWidth": 0.8, "strokeDash": [1.5, 1.5]},
  "encoding": {"theta": {"datum": 0, "type": "quantitative", "scale": {"domain": [0, 360], "range": [0, 6.283185307179586]}}, "theta2": {"datum": 360}, "radius": {"field": "r", "type": "quantitative", "stack": null, "scale": {"type": "linear", "domain": [0, 30], "range": [4, 103], "zero": false}}}},
 {"data": {"name": "B30"}, "transform": [{"bin": {"step": 10, "anchor": 5, "extent": [-5, 355], "nice": false}, "field": "dir", "as": ["d0", "d1"]}, {"stack": "f", "groupby": ["dir"], "sort": [{"field": "hs", "order": "ascending"}], "as": ["r0", "r1"]}],
  "mark": {"type": "arc", "stroke": "#000", "strokeWidth": 0.6},
  "encoding": {"theta": {"field": "d0", "type": "quantitative", "stack": null}, "theta2": {"field": "d1"}, "radius": {"field": "r1", "type": "quantitative", "stack": null}, "radius2": {"field": "r0"},
   "fill": {"field": "hs", "type": "ordinal", "scale": {"domain": [0, 0.5, 1, 1.5, 2, 2.5, 3, 3.5], "range": ["#00008c", "#0028ff", "#00b4ff", "#3cffc3", "#c8ff37", "#ff9b00", "#ff1400", "#800000"]}, "legend": null}}},
 {"data": {"name": "one"}, "mark": {"type": "arc", "fill": "#fff", "stroke": "#000", "strokeWidth": 1}, "encoding": {"theta": {"datum": 0, "type": "quantitative"}, "theta2": {"datum": 360}, "radius": {"datum": 0, "type": "quantitative"}}},
 {"data": {"name": "one"}, "mark": {"type": "text", "text": "30-km wind grid", "align": "center", "baseline": "alphabetic", "fontSize": 17}, "encoding": {"x": {"datum": 0.76, "type": "quantitative"}, "y": {"datum": 39.4, "type": "quantitative"}}}
]
},
{
"vconcat": [
 {"width": 480, "height": 54, "data": {"name": "one"}, "mark": {"type": "text", "text": ""}, "encoding": {}},
 {
 "width": 480, "height": 318,
 "layer": [
  {"data": {"name": "Bhist"}, "mark": {"type": "bar", "width": 9.7, "stroke": "#1a1a1a", "strokeWidth": 0.8, "clip": true},
   "encoding": {
    "x": {"field": "h", "type": "quantitative", "scale": {"domain": [0, 4], "nice": false, "zero": false}, "axis": {"values": [0, 0.5, 1, 1.5, 2, 2.5, 3, 3.5, 4], "format": "~g", "title": null, "grid": false, "tickSize": -5, "labelPadding": 16, "labelFontSize": 17, "labelColor": "#000", "domainColor": "#222", "tickColor": "#222", "labelFlush": false, "labelOverlap": false}},
    "y": {"field": "p", "type": "quantitative", "stack": null, "scale": {"domain": [0, 0.2], "nice": false}, "axis": {"values": [0, 0.05, 0.1, 0.15, 0.2], "format": "~g", "title": null, "grid": false, "tickSize": -5, "labelPadding": 12, "labelFontSize": 17, "labelColor": "#000", "domainColor": "#222", "tickColor": "#222"}},
    "color": {"field": "grid", "type": "nominal", "scale": {"domain": ["30-km wind grid", "10-km wind grid"], "range": ["#0000ff", "#ff0000"]}, "legend": null}
   }},
  {"data": {"name": "Bhist"}, "transform": [{"filter": "datum.grid == '30-km wind grid'"}], "mark": {"type": "bar", "width": 9.7, "fillOpacity": 0, "stroke": "#1a1a1a", "strokeWidth": 0.8, "clip": true},
   "encoding": {"x": {"field": "h", "type": "quantitative"}, "y": {"field": "p", "type": "quantitative", "stack": null}}},
  {"data": {"name": "Bcurve"}, "mark": {"type": "line", "strokeWidth": 4, "clip": true},
   "encoding": {"x": {"field": "h", "type": "quantitative"}, "y": {"field": "p", "type": "quantitative"}, "stroke": {"field": "grid", "type": "nominal", "scale": {"domain": ["30-km wind grid", "10-km wind grid"], "range": ["#0000ff", "#ff0000"]}, "legend": null}}},
  {"data": {"name": "Bmean"}, "mark": {"type": "rule", "strokeWidth": 1, "strokeDash": [3, 2], "strokeOpacity": 1},
   "encoding": {"x": {"field": "h", "type": "quantitative"}, "stroke": {"field": "grid", "type": "nominal", "scale": {"domain": ["30-km wind grid", "10-km wind grid"], "range": ["#0000ff", "#ff0000"]}, "legend": null}}},
  {"data": {"name": "one"}, "mark": {"type": "text", "text": "H", "align": "left", "baseline": "alphabetic", "fontSize": 17}, "encoding": {"x": {"datum": 1.762, "type": "quantitative"}, "y": {"datum": -0.0293, "type": "quantitative"}}},
  {"data": {"name": "one"}, "mark": {"type": "text", "text": "sig", "align": "left", "baseline": "alphabetic", "fontSize": 13}, "encoding": {"x": {"datum": 1.862, "type": "quantitative"}, "y": {"datum": -0.0344, "type": "quantitative"}}},
  {"data": {"name": "one"}, "mark": {"type": "text", "text": "(m)", "align": "left", "baseline": "alphabetic", "fontSize": 17}, "encoding": {"x": {"datum": 2.035, "type": "quantitative"}, "y": {"datum": -0.0293, "type": "quantitative"}}}
 ]
 }
],
"spacing": 0, "bounds": "flush",
"resolve": {"scale": {"color": "independent", "fill": "independent", "stroke": "independent"}, "legend": {"color": "independent"}}
}
],
"spacing": 0, "bounds": "flush",
"resolve": {"scale": {"color": "independent", "fill": "independent", "stroke": "independent"}, "legend": {"color": "independent"}}
}
],
"spacing": 77.7, "bounds": "full",
"resolve": {"scale": {"color": "independent", "fill": "independent", "stroke": "independent"}, "legend": {"color": "independent"}}
}
